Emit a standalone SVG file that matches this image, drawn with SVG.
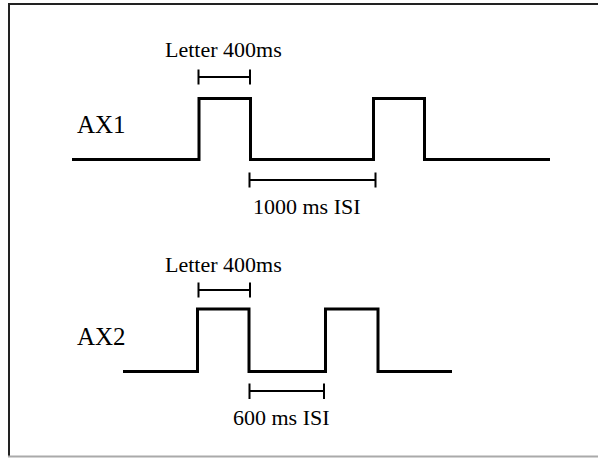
<svg xmlns="http://www.w3.org/2000/svg" width="598" height="458" viewBox="0 0 598 458">
<style>
text{font-family:'Liberation Serif','Times New Roman',serif;fill:#000}
.s{font-size:22px}
.l{font-size:25px}
.w{fill:none;stroke:#000;stroke-width:3;stroke-linejoin:miter}
.b{fill:none;stroke:#000;stroke-width:2}
</style>
<rect width="598" height="458" fill="#fff"/>
<g id="frame">
<line x1="8" y1="4" x2="598" y2="4" stroke="#222" stroke-width="2"/>
<line x1="9" y1="3" x2="9" y2="457" stroke="#222" stroke-width="2"/>
<line x1="8" y1="456.5" x2="598" y2="456.5" stroke="#aaa" stroke-width="2"/>
</g>
<g id="ax1">
<text class="l" x="77" y="133" font-family="Liberation Serif, serif">AX1</text>
<text class="s" x="165" y="57" font-family="Liberation Serif, serif">Letter 400ms</text>
<text class="s" x="253" y="214" font-family="Liberation Serif, serif">1000 ms ISI</text>
</g>
<g id="ax2">
<text class="l" x="77" y="345" font-family="Liberation Serif, serif">AX2</text>
<text class="s" x="165" y="272" font-family="Liberation Serif, serif">Letter 400ms</text>
<text class="s" x="233" y="425" font-family="Liberation Serif, serif">600 ms ISI</text>
</g>
<g id="connectors">
<path class="w" d="M72 159.5H199V98.5H250.5V159.5H373.5V98.5H424.5V159.5H550"/>
<path class="b" d="M198.5 77H250M198.5 69.5V84.5M250 69.5V84.5"/>
<path class="b" d="M249.5 180H375.5M249.5 172.5V187.5M375.5 172.5V187.5"/>
<path class="w" d="M123 371.5H197.5V309H249V371.5H325.5V309H378V371.5H452"/>
<path class="b" d="M198.5 290H250M198.5 282.5V297.5M250 282.5V297.5"/>
<path class="b" d="M249.5 391H324M249.5 383.5V399M324 383.5V399"/>
</g>
</svg>
